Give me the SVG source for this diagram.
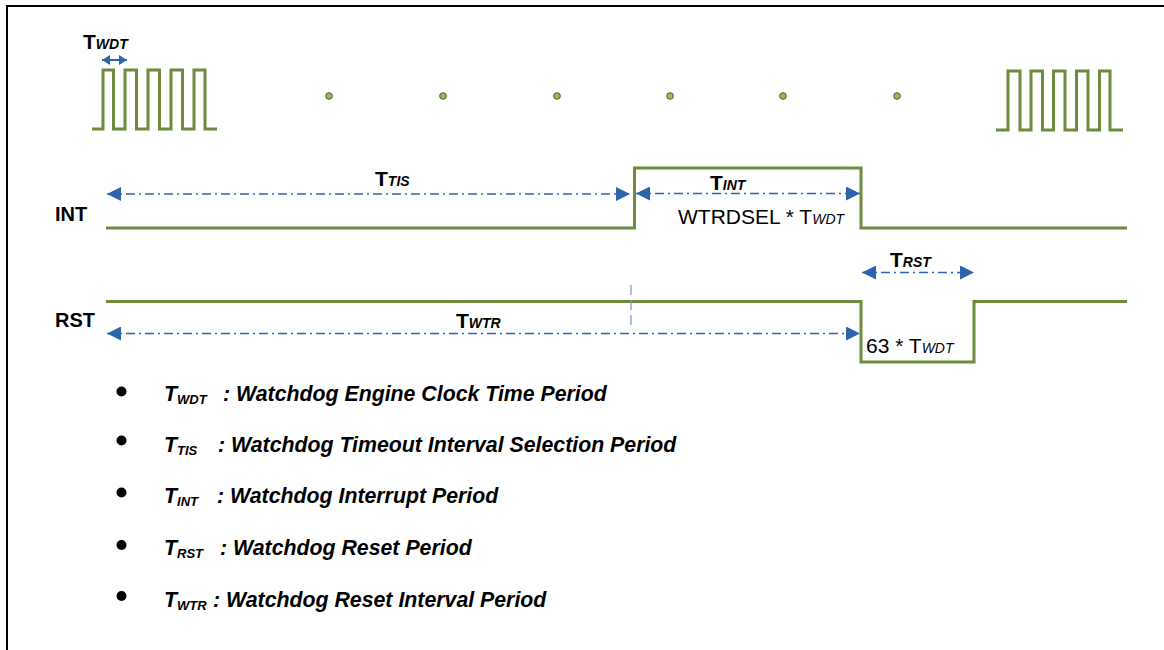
<svg xmlns="http://www.w3.org/2000/svg" width="1164" height="650" viewBox="0 0 1164 650">
<defs>
<marker id="ah" viewBox="0 0 14 14" refX="14" refY="7" markerWidth="14" markerHeight="14" markerUnits="userSpaceOnUse" orient="auto-start-reverse">
<path d="M0,0 L14,7 L0,14 Z" fill="#2e63ae"/>
</marker>
<marker id="ahs" viewBox="0 0 8 10" refX="8" refY="5" markerWidth="8" markerHeight="10" markerUnits="userSpaceOnUse" orient="auto-start-reverse">
<path d="M0,0 L8,5 L0,10 Z" fill="#2e63ae"/>
</marker>
<style>
.wave{fill:none;stroke:#6e8a3c;stroke-width:3;stroke-linejoin:miter}
.dim{fill:none;stroke:#2e63ae;stroke-width:1.3;stroke-dasharray:9,4,2,4}
.lbl{font-family:"Liberation Sans",Arial,sans-serif;font-weight:bold;fill:#000}
.sub{font-style:italic;font-weight:bold}
.note{font-family:"Liberation Sans",Arial,sans-serif;fill:#000}
.leg{font-family:"Liberation Sans",Arial,sans-serif;font-weight:bold;font-style:italic;font-size:21.3px;fill:#000}
.dot{fill:#9bbb59;stroke:#3f5f2a;stroke-width:1}
</style>
</defs>
<rect width="1164" height="650" fill="#fff"/>
<path d="M7,650 V6 H1164" fill="none" stroke="#000" stroke-width="2"/>

<g id="clock-left">
<path class="wave" d="M92,129 H103 V70 H113.5 V129 H125 V70 H136.5 V129 H148 V70 H159.5 V129 H171 V70 H182.5 V129 H194 V70 H205 V129 H217"/>
</g>
<g id="clock-right">
<path class="wave" d="M996,130 H1008 V71 H1020 V130 H1031 V71 H1042.5 V130 H1053.5 V71 H1065 V130 H1076.5 V71 H1088 V130 H1099.5 V71 H1110 V130 H1123"/>
</g>
<g id="dots">
<circle class="dot" cx="329" cy="96" r="3.3"/>
<circle class="dot" cx="443" cy="96" r="3.3"/>
<circle class="dot" cx="557" cy="96" r="3.3"/>
<circle class="dot" cx="670" cy="96" r="3.3"/>
<circle class="dot" cx="783" cy="96" r="3.3"/>
<circle class="dot" cx="897" cy="96" r="3.3"/>
</g>
<g id="int-signal">
<path class="wave" d="M106,228 H634.5 V168 H861 V228 H1127"/>
<text class="lbl" x="55" y="221" font-size="20">INT</text>
</g>
<g id="rst-signal">
<path class="wave" d="M106,301.5 H861 V362 H974 V301.5 H1127"/>
<text class="lbl" x="55" y="327" font-size="20">RST</text>
</g>

<g id="connectors">
<line x1="102" y1="60" x2="127" y2="60" stroke="#2e63ae" stroke-width="2" marker-start="url(#ahs)" marker-end="url(#ahs)"/>
<line class="dim" x1="107" y1="194" x2="630" y2="194" marker-start="url(#ah)" marker-end="url(#ah)"/>
<line class="dim" x1="636" y1="193.5" x2="860" y2="193.5" marker-start="url(#ah)" marker-end="url(#ah)"/>
<line class="dim" x1="862" y1="272.5" x2="974" y2="272.5" marker-start="url(#ah)" marker-end="url(#ah)"/>
<line class="dim" x1="107" y1="333.5" x2="860" y2="333.5" marker-start="url(#ah)" marker-end="url(#ah)"/>
<line x1="631" y1="285" x2="631" y2="330" stroke="#7f9cc8" stroke-width="1.3" stroke-dasharray="10,5"/>
</g>

<g id="label-twdt">
<text class="lbl" x="83" y="49" font-size="21">T<tspan class="sub" font-size="14">WDT</tspan></text>
</g>
<g id="label-ttis">
<text class="lbl" x="375" y="186" font-size="21">T<tspan class="sub" font-size="14">TIS</tspan></text>
</g>
<g id="label-tint">
<text class="lbl" x="710" y="190" font-size="21">T<tspan class="sub" font-size="14">INT</tspan></text>
<text class="note" x="678" y="224" font-size="21">WTRDSEL * T<tspan font-style="italic" font-size="14">WDT</tspan></text>
</g>
<g id="label-trst">
<text class="lbl" x="890" y="267" font-size="21">T<tspan class="sub" font-size="14">RST</tspan></text>
<text class="note" x="866" y="353" font-size="21">63 * T<tspan font-style="italic" font-size="14">WDT</tspan></text>
</g>
<g id="label-twtr">
<text class="lbl" x="456" y="328" font-size="21">T<tspan class="sub" font-size="14">WTR</tspan></text>
</g>

<g id="legend">
<circle cx="121.5" cy="391.5" r="5" fill="#000"/>
<text class="leg" x="164" y="401">T<tspan font-size="13" dy="3">WDT</tspan><tspan dy="-3" x="223">: Watchdog Engine Clock Time Period</tspan></text>
<circle cx="121.5" cy="440.5" r="5" fill="#000"/>
<text class="leg" x="164" y="452">T<tspan font-size="13" dy="3">TIS</tspan><tspan dy="-3" x="218">: Watchdog Timeout Interval Selection Period</tspan></text>
<circle cx="121.5" cy="492.5" r="5" fill="#000"/>
<text class="leg" x="164" y="503">T<tspan font-size="13" dy="3">INT</tspan><tspan dy="-3" x="217">: Watchdog Interrupt Period</tspan></text>
<circle cx="121.5" cy="545" r="5" fill="#000"/>
<text class="leg" x="164" y="555">T<tspan font-size="13" dy="3">RST</tspan><tspan dy="-3" x="220">: Watchdog Reset Period</tspan></text>
<circle cx="121.5" cy="596" r="5" fill="#000"/>
<text class="leg" x="164" y="607">T<tspan font-size="13" dy="3">WTR</tspan><tspan dy="-3" x="213">: Watchdog Reset Interval Period</tspan></text>
</g>
</svg>
